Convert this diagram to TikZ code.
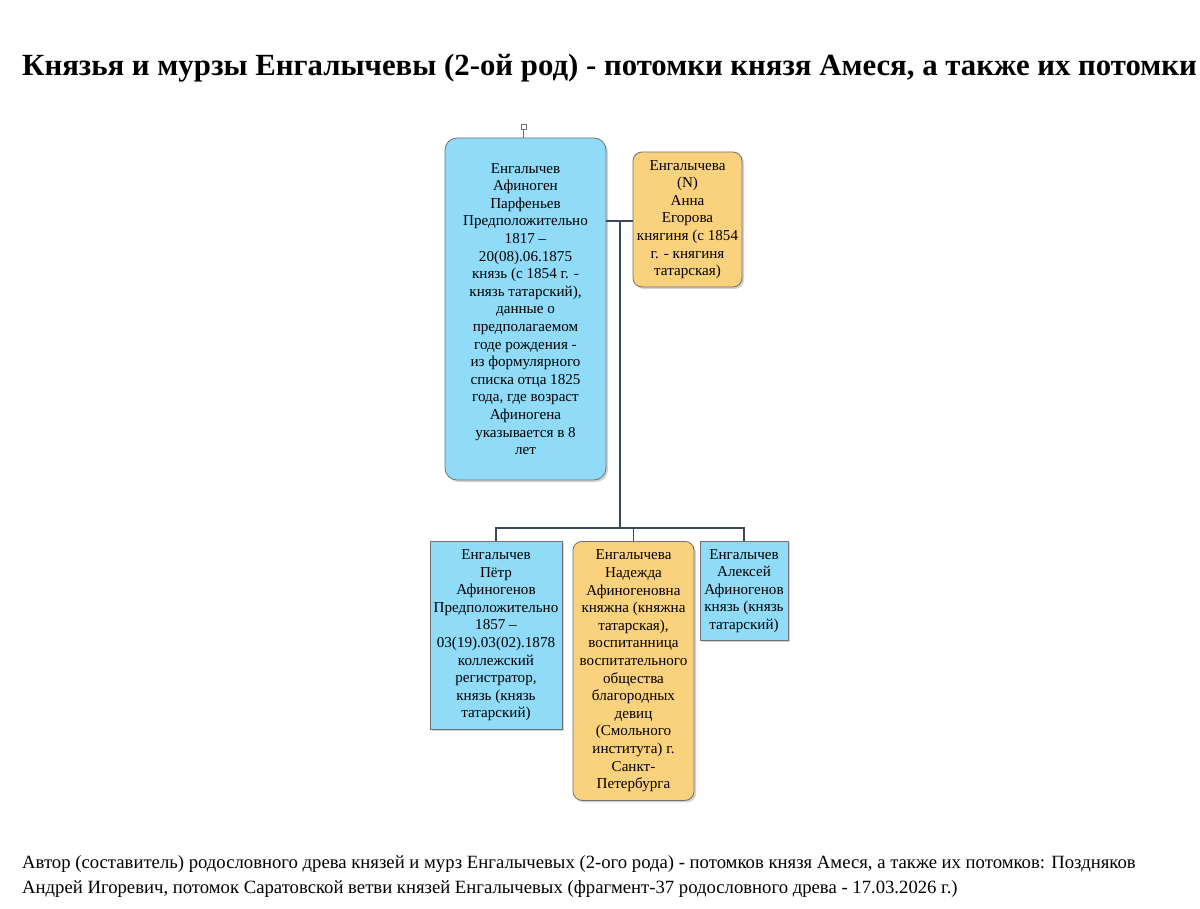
\documentclass[tikz,border=0pt]{standalone}
\usepackage{fontspec}
\setmainfont{Liberation Serif}
\usetikzlibrary{shadows}
\definecolor{pblue}{HTML}{8FDBF8}
\definecolor{porange}{HTML}{FAD17C}
\definecolor{pborder}{HTML}{707070}
\definecolor{pline}{HTML}{3A4A5A}
\tikzset{
  person/.style={draw=pborder, line width=0.8pt, align=center, font=\fontsize{15.1}{17.6}\selectfont,
    drop shadow={shadow xshift=2pt, shadow yshift=-2pt, opacity=0.35}, inner sep=0pt},
  male/.style={person, fill=pblue},
  female/.style={person, fill=porange, rounded corners=9pt},
  link/.style={draw=pline, line width=1.1pt}
}
\begin{document}
\begin{tikzpicture}[x=1pt,y=-1pt]
\useasboundingbox (0,0) rectangle (1200,909);
\node[anchor=west, font=\bfseries\fontsize{30.8}{36}\selectfont, inner sep=0pt] (title) at (22,68) {Князья и мурзы Енгалычевы (2-ой род) - потомки князя Амеся, а также их потомки};
\node[male, rounded corners=12pt, minimum width=161pt, minimum height=342pt] (main) at (525.5,309)
 {Енгалычев\\Афиноген\\Парфеньев\\Предположительно\\1817 –\\20(08).06.1875\\князь (с 1854 г. -\\князь татарский),\\данные о\\предполагаемом\\годе рождения -\\из формулярного\\списка отца 1825\\года, где возраст\\Афиногена\\указывается в 8\\лет};
\node[draw=pborder, fill=white, minimum size=5pt, inner sep=0pt, line width=0.8pt] (tab) at (523.5,127) {};
\draw[pborder, line width=0.8pt] (tab.south) -- (main.north -| tab.south);
\node[female, minimum width=109pt, minimum height=135pt] (wife) at (687.5,219.5)
 {Енгалычева\\(N)\\Анна\\Егорова\\княгиня (с 1854\\г. - княгиня\\татарская)};
\node[male, minimum width=132pt, minimum height=188pt, anchor=north] (c1) at (496,541)
 {Енгалычев\\Пётр\\Афиногенов\\Предположительно\\1857 –\\03(19).03(02).1878\\коллежский\\регистратор,\\князь (князь\\татарский)};
\node[female, minimum width=121pt, minimum height=259pt, anchor=north] (c2) at (633.5,541)
 {Енгалычева\\Надежда\\Афиногеновна\\княжна (княжна\\татарская),\\воспитанница\\воспитательного\\общества\\благородных\\девиц\\(Смольного\\института) г.\\Санкт-\\Петербурга};
\node[male, minimum width=88pt, minimum height=99pt, anchor=north] (c3) at (744,541)
 {Енгалычев\\Алексей\\Афиногенов\\князь (князь\\татарский)};
\coordinate (j) at (620,221);
\coordinate (bus) at (620,528);
\draw[link] (main.east |- j) -- (wife.west |- j);
\draw[link] (j) -- (bus);
\draw[link] (c1.north) |- (bus) -| (c3.north);
\draw[link] (c2.north) -- (c2.north |- bus);
\node[anchor=north west, align=left, font=\fontsize{18.7}{25}\selectfont, inner sep=0pt] (foot) at (22,855)
 {Автор (составитель) родословного древа князей и мурз Енгалычевых (2-ого рода) - потомков князя Амеся, а также их потомков: Поздняков\\Андрей Игоревич, потомок Саратовской ветви князей Енгалычевых (фрагмент-37 родословного древа - 17.03.2026 г.)};
\end{tikzpicture}
\end{document}
